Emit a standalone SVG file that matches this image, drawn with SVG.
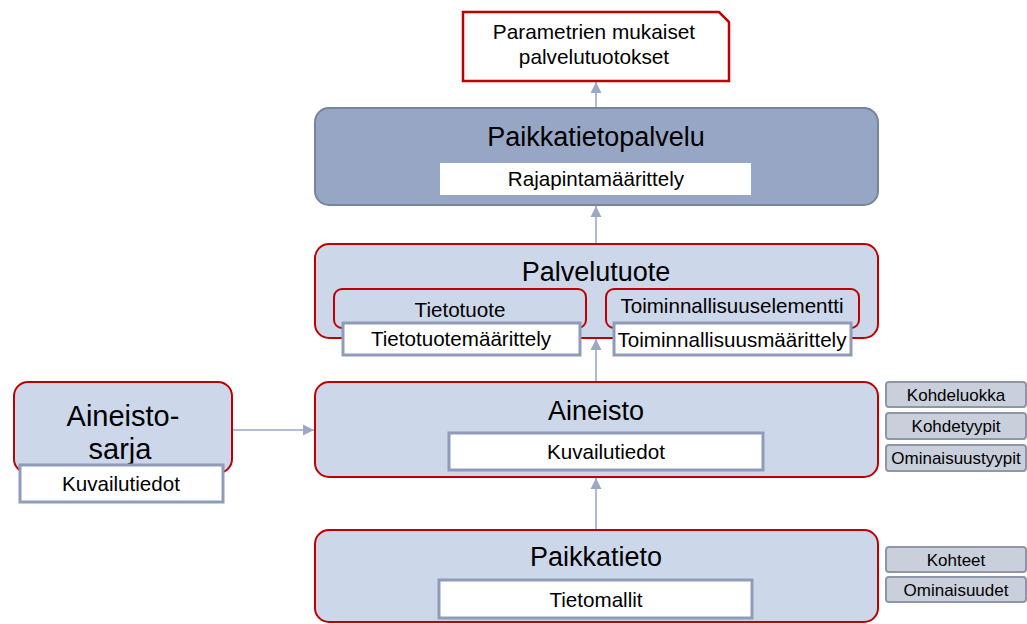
<svg xmlns="http://www.w3.org/2000/svg" width="1027" height="624" viewBox="0 0 1027 624">
<style>
text{font-family:"Liberation Sans",Arial,sans-serif;fill:#000;text-anchor:middle}
.title{font-size:27px}
.big{font-size:29px}
.lbl{font-size:20.6px}
.sm{font-size:17px}
.main{fill:#CDD7EA;stroke:#C00000;stroke-width:2}
.dark{fill:#97A6C4;stroke:#75849F;stroke-width:2}
.inner{fill:#fff;stroke:#8E9CBA;stroke-width:3}
.side{fill:#C9D0DC;stroke:#8D97A9;stroke-width:2}
.conn{stroke:#9AA9C6;stroke-width:1.6;fill:none}
</style>
<defs>
<marker id="ah" viewBox="0 0 10 10" refX="10" refY="5" markerWidth="7" markerHeight="7" markerUnits="strokeWidth" orient="auto">
<path d="M0 0 L10 5 L0 10 Z" fill="#9AA9C6"/>
</marker>
</defs>
<g id="connectors">
<path class="conn" d="M596 108 V82" marker-end="url(#ah)"/>
<path class="conn" d="M596 244 V206" marker-end="url(#ah)"/>
<path class="conn" d="M596 382 V339" marker-end="url(#ah)"/>
<path class="conn" d="M596 530 V478" marker-end="url(#ah)"/>
<path class="conn" d="M232 430 H314" marker-end="url(#ah)"/>
</g>
<g id="tuotokset">
<path d="M463 12 H719 L729 22 V81 H463 Z" fill="#fff" stroke="#C00000" stroke-width="2.5"/>
<text x="594" y="39" style="font-size:20.8px">Parametrien mukaiset</text>
<text x="594" y="64" style="font-size:20.8px">palvelutuotokset</text>
</g>
<g id="paikkatietopalvelu">
<rect class="dark" x="315" y="108" width="563" height="97" rx="14"/>
<text class="title" x="596" y="146">Paikkatietopalvelu</text>
<rect x="440" y="163" width="311" height="32" fill="#fff"/>
<text class="lbl" x="596" y="186">Rajapintamäärittely</text>
</g>
<g id="palvelutuote">
<rect class="main" x="315" y="244" width="563" height="94" rx="14"/>
<text class="title" x="596" y="281">Palvelutuote</text>
</g>
<g id="tietotuote">
<rect class="main" x="334" y="289" width="252" height="39" rx="8"/>
<text class="lbl" x="460" y="317">Tietotuote</text>
<rect class="inner" x="343" y="323" width="237" height="32"/>
<text class="lbl" x="461" y="346">Tietotuotemäärittely</text>
</g>
<g id="toiminnallisuus">
<rect class="main" x="606" y="289" width="253" height="39" rx="8"/>
<text class="lbl" x="732" y="313">Toiminnallisuuselementti</text>
<rect class="inner" x="614" y="323" width="237" height="32"/>
<text class="lbl" x="732" y="347">Toiminnallisuusmäärittely</text>
</g>
<g id="aineisto">
<rect class="main" x="315" y="382" width="563" height="95" rx="14"/>
<text class="title" x="596" y="420">Aineisto</text>
<rect class="inner" x="449" y="433" width="314" height="37"/>
<text class="lbl" x="606" y="459">Kuvailutiedot</text>
</g>
<g id="paikkatieto">
<rect class="main" x="315" y="530" width="563" height="92" rx="14"/>
<text class="title" x="596" y="566">Paikkatieto</text>
<rect class="inner" x="439" y="580" width="313" height="38"/>
<text class="lbl" x="596" y="607">Tietomallit</text>
</g>
<g id="aineistosarja">
<rect class="main" x="14" y="382" width="218" height="91" rx="14"/>
<text class="big" x="123" y="426">Aineisto-</text>
<text class="big" x="120" y="459">sarja</text>
<rect class="inner" x="20" y="465" width="203" height="37"/>
<text class="lbl" x="121" y="491">Kuvailutiedot</text>
</g>
<g id="kohdeluokka">
<rect class="side" x="886" y="382" width="140" height="25" rx="3"/>
<text class="sm" x="956" y="401">Kohdeluokka</text>
</g>
<g id="kohdetyypit">
<rect class="side" x="886" y="413" width="140" height="26" rx="3"/>
<text class="sm" x="956" y="432">Kohdetyypit</text>
</g>
<g id="ominaisuustyypit">
<rect class="side" x="886" y="445" width="140" height="26" rx="3"/>
<text class="sm" x="956" y="464">Ominaisuustyypit</text>
</g>
<g id="kohteet">
<rect class="side" x="886" y="547" width="140" height="25" rx="3"/>
<text class="sm" x="956" y="566">Kohteet</text>
</g>
<g id="ominaisuudet">
<rect class="side" x="886" y="577" width="140" height="25" rx="3"/>
<text class="sm" x="956" y="596">Ominaisuudet</text>
</g>
</svg>
